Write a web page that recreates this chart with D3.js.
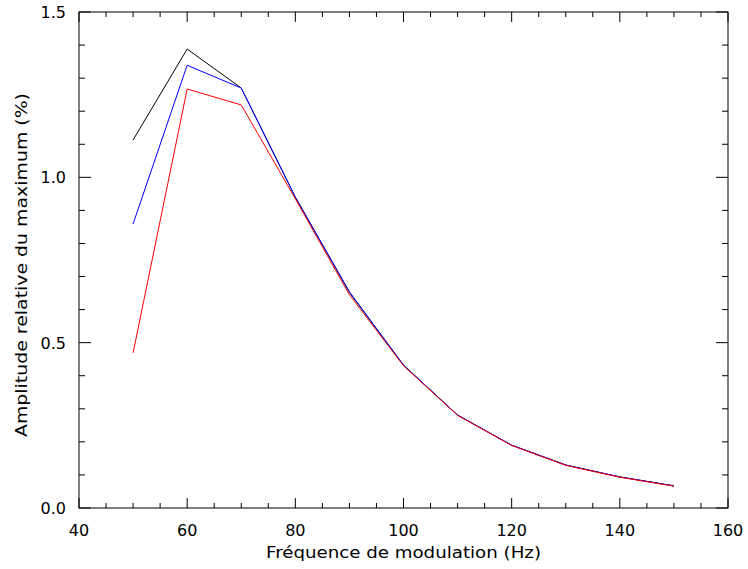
<!DOCTYPE html>
<html><head><meta charset="utf-8">
<script src="https://cdn.jsdelivr.net/npm/d3@7"></script>
<style>body{margin:0;background:#fff}text{font-family:"DejaVu Sans",sans-serif;fill:#000}</style>
</head><body><svg id="c" width="748" height="569"></svg>
<script>
const freqs = [50, 60, 70, 80, 90, 100, 110, 120, 130, 140, 150];
const seriesBlack = [1.113, 1.388, 1.270, 0.940, 0.652, 0.432, 0.281, 0.190, 0.130, 0.094, 0.067];
const seriesBlue  = [0.859, 1.339, 1.270, 0.940, 0.654, 0.432, 0.281, 0.190, 0.130, 0.094, 0.067];
const seriesRed   = [0.469, 1.267, 1.219, 0.935, 0.645, 0.430, 0.280, 0.189, 0.129, 0.093, 0.066];
const xTicks = [40, 60, 80, 100, 120, 140, 160];
const yTicks = [0.0, 0.5, 1.0, 1.5];
const xLabel = "Fréquence de modulation (Hz)";
const yLabel = "Amplitude relative du maximum (%)";

const svg = d3.select("#c");
const L = 79, R = 728, T = 12, B = 508;
const x = d3.scaleLinear().domain([40, 160]).range([L, R]);
const y = d3.scaleLinear().domain([0, 1.5]).range([B, T]);

const g = svg.append("g");
// frame
g.append("rect").attr("x", L).attr("y", T).attr("width", R - L).attr("height", B - T)
  .attr("fill", "none").attr("stroke", "#000").attr("stroke-width", 1);

const xMinor = d3.range(40, 160.01, 5);
const yMinor = d3.range(0, 1.501, 0.1);
function isMajorX(v){ return Math.abs(v % 20) < 1e-6; }
function isMajorY(v){ return Math.abs(Math.round(v*10) % 5) === 0; }
xMinor.forEach(v => {
  const len = isMajorX(v) ? 10 : 5;
  g.append("line").attr("x1", x(v)).attr("x2", x(v)).attr("y1", B).attr("y2", B - len).attr("stroke", "#000");
  g.append("line").attr("x1", x(v)).attr("x2", x(v)).attr("y1", T).attr("y2", T + len).attr("stroke", "#000");
});
yMinor.forEach(v => {
  const len = isMajorY(v) ? 12 : 6;
  g.append("line").attr("y1", y(v)).attr("y2", y(v)).attr("x1", L).attr("x2", L + len).attr("stroke", "#000");
  g.append("line").attr("y1", y(v)).attr("y2", y(v)).attr("x1", R).attr("x2", R - len).attr("stroke", "#000");
});

xTicks.forEach(v => g.append("text").attr("x", x(v)).attr("y", 536).attr("text-anchor", "middle")
  .attr("font-size", 16).text(v));
yTicks.forEach(v => g.append("text").attr("x", 66).attr("y", y(v) + 6).attr("text-anchor", "end")
  .attr("font-size", 16).text(v.toFixed(1)));

g.append("text").attr("x", (L + R) / 2).attr("y", 558).attr("text-anchor", "middle")
  .attr("font-size", 16).attr("textLength", 275).attr("lengthAdjust", "spacingAndGlyphs").text(xLabel);
g.append("text").attr("transform", "translate(27," + ((T + B) / 2 + 5) + ") rotate(-90)")
  .attr("text-anchor", "middle").attr("font-size", 16).attr("textLength", 344)
  .attr("lengthAdjust", "spacingAndGlyphs").text(yLabel);

const line = d3.line().x(d => x(d[0])).y(d => y(d[1]));
[[seriesBlack, "#000"], [seriesBlue, "#0000ff"], [seriesRed, "#ff0000"]].forEach(([s, c]) => {
  g.append("path").datum(freqs.map((f, i) => [f, s[i]])).attr("d", line)
    .attr("fill", "none").attr("stroke", c).attr("stroke-width", 1);
});
</script></body></html>
